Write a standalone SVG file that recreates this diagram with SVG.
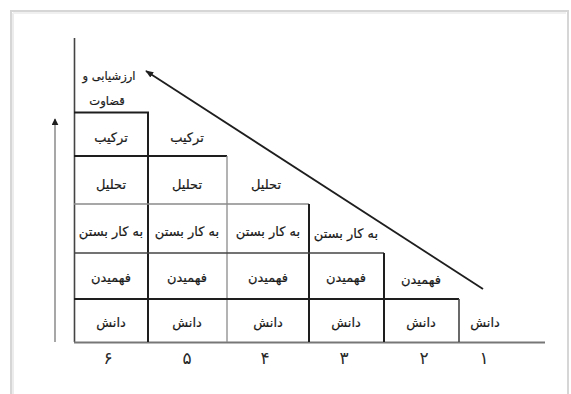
<svg xmlns="http://www.w3.org/2000/svg" width="571" height="394" viewBox="0 0 571 394">
<defs>
<style>
.t{font-family:"DejaVu Sans","Noto Sans",sans-serif;font-size:13px;fill:#1a1a1a;text-anchor:middle;stroke:#1a1a1a;stroke-width:0.2}
.s{font-size:11.5px}
.n{font-family:"DejaVu Sans","Noto Sans",sans-serif;font-size:17px;fill:#2a2a2a;text-anchor:middle}
.thick{stroke:#1e1e1e;stroke-width:2;fill:none}
.thin{stroke:#8a8a8a;stroke-width:1.3;fill:none}
.mid{stroke:#444;stroke-width:1.6;fill:none}
</style>
<marker id="ah" viewBox="0 0 10 10" refX="9" refY="5" markerWidth="7" markerHeight="7" orient="auto" markerUnits="userSpaceOnUse">
<path d="M0,0 L10,5 L0,10 z" fill="#1e1e1e"/>
</marker>
<marker id="ah2" viewBox="0 0 10 10" refX="9" refY="5" markerWidth="8" markerHeight="8" orient="auto" markerUnits="userSpaceOnUse">
<path d="M0,1 L10,5 L0,9 z" fill="#1e1e1e"/>
</marker>
</defs>
<rect x="0" y="0" width="571" height="394" fill="#fff"/>
<rect x="11" y="11" width="557" height="400" fill="#fff" stroke="#d6d6d6" stroke-width="2"/>
<line x1="13" y1="13" x2="13" y2="394" stroke="#ececec" stroke-width="2"/>
<line x1="13" y1="13" x2="566" y2="13" stroke="#f0f0f0" stroke-width="2"/>

<g id="grid">
<line class="mid" x1="74.5" y1="38" x2="74.5" y2="342"/>
<line class="thin" x1="74" y1="342.5" x2="545" y2="342.5" style="stroke:#777;stroke-width:1.8"/>
<polyline class="thick" points="74,112.5 148,112.5 148,342"/>
<polyline class="thick" points="74,156 227,156"/>
<line class="thin" x1="227" y1="156" x2="227" y2="342"/>
<polyline class="thin" points="74,204 309,204"/>
<line class="thick" x1="309" y1="204" x2="309" y2="342"/>
<line class="mid" x1="74" y1="253" x2="384" y2="253"/>
<line class="thick" x1="384" y1="253" x2="384" y2="342"/>
<line class="thick" x1="74" y1="299" x2="459" y2="299"/>
<line class="mid" x1="459" y1="299" x2="459" y2="342"/>
</g>

<g id="connectors">
<line x1="483" y1="289" x2="146" y2="71" stroke="#1e1e1e" stroke-width="1.8" marker-end="url(#ah2)"/>
<line x1="55" y1="342" x2="55" y2="119" stroke="#8a8a8a" stroke-width="1.5" marker-end="url(#ah)"/>
</g>

<g id="col6">
<text class="t s" x="109" y="80">ارزشیابی و</text>
<text class="t s" x="107" y="105">قضاوت</text>
<text class="t" x="111" y="142">ترکیب</text>
<text class="t" x="111" y="189">تحلیل</text>
<text class="t" x="111" y="236">به کار بستن</text>
<text class="t" x="111" y="282">فهمیدن</text>
<text class="t" x="111" y="327">دانش</text>
</g>
<g id="col5">
<text class="t" x="187" y="142">ترکیب</text>
<text class="t" x="187" y="189">تحلیل</text>
<text class="t" x="187" y="236">به کار بستن</text>
<text class="t" x="187" y="282">فهمیدن</text>
<text class="t" x="187" y="327">دانش</text>
</g>
<g id="col4">
<text class="t" x="266" y="189">تحلیل</text>
<text class="t" x="268" y="236">به کار بستن</text>
<text class="t" x="268" y="282">فهمیدن</text>
<text class="t" x="268" y="327">دانش</text>
</g>
<g id="col3">
<text class="t" x="346" y="238">به کار بستن</text>
<text class="t" x="346" y="282">فهمیدن</text>
<text class="t" x="346" y="327">دانش</text>
</g>
<g id="col2">
<text class="t" x="421" y="284">فهمیدن</text>
<text class="t" x="421" y="327">دانش</text>
</g>
<g id="col1">
<text class="t" x="485" y="327">دانش</text>
</g>
<g id="numbers">
<text class="n" x="108" y="364">۶</text>
<text class="n" x="187" y="364">۵</text>
<text class="n" x="265" y="364">۴</text>
<text class="n" x="344" y="364">۳</text>
<text class="n" x="424" y="364">۲</text>
<text class="n" x="484" y="364">۱</text>
</g>
</svg>
